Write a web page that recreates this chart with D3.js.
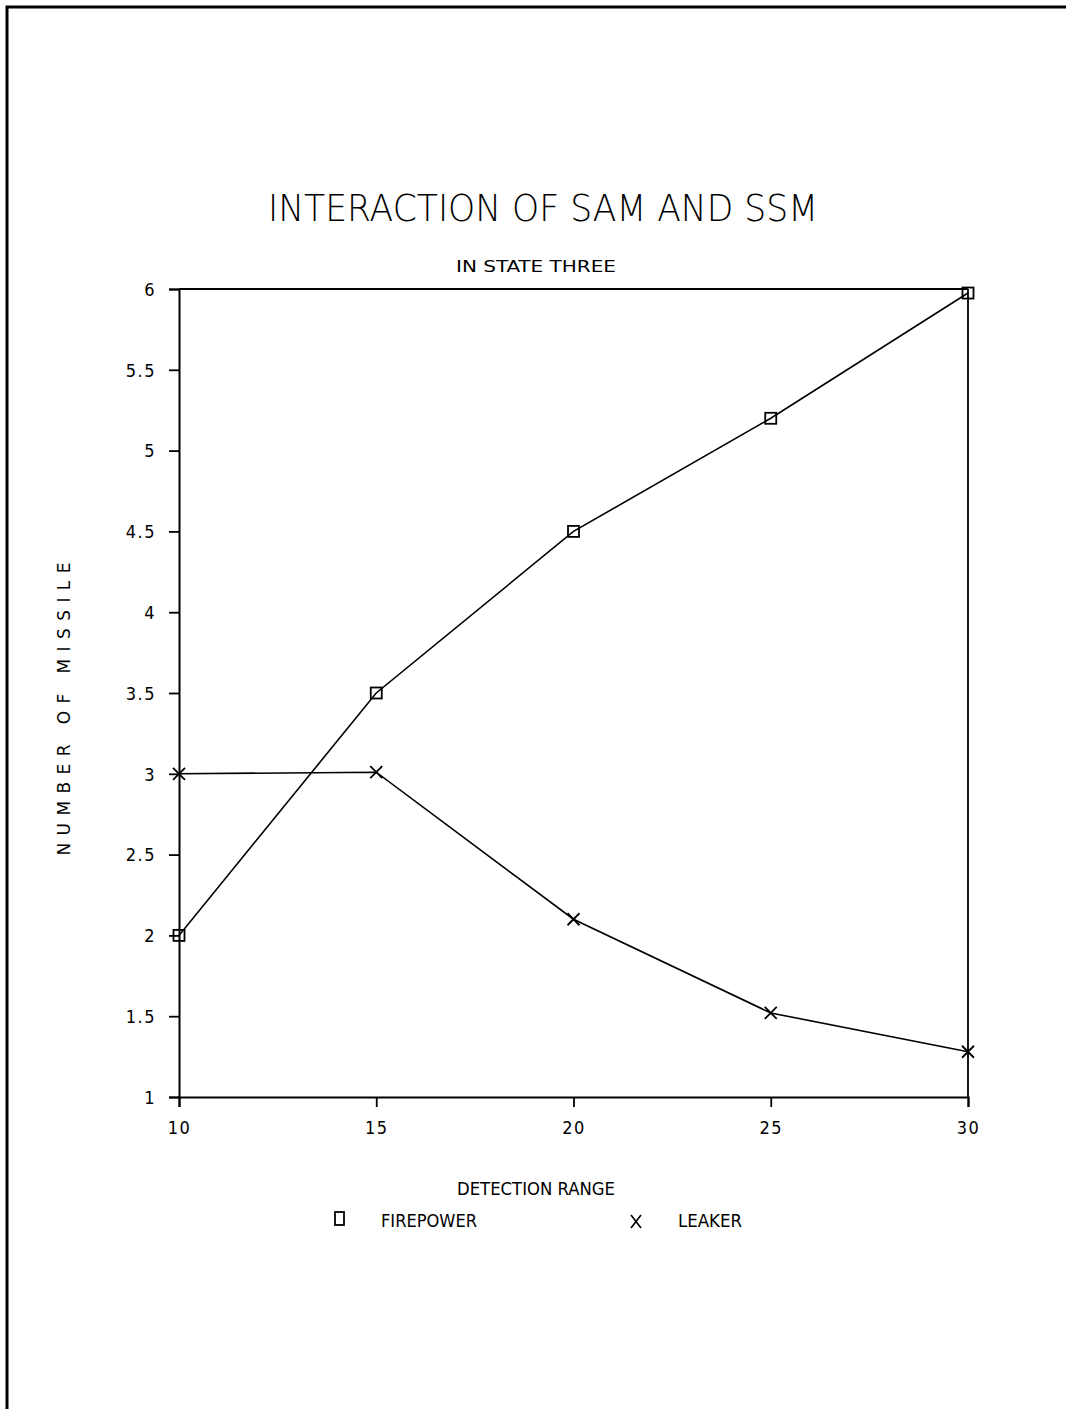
<!DOCTYPE html>
<html><head><meta charset="utf-8">
<script src="https://cdn.jsdelivr.net/npm/d3@7"></script>
<style>html,body{margin:0;background:#fff;overflow:hidden}svg{display:block}</style>
</head><body>
<script>
const ranges = [10, 15, 20, 25, 30];
const firepower = [2.0, 3.5, 4.5, 5.2, 5.975];
const leaker = [3.0, 3.01, 2.1, 1.52, 1.28];
const yTicks = [1, 1.5, 2, 2.5, 3, 3.5, 4, 4.5, 5, 5.5, 6];
const yTickLabels = ["1","1.5","2","2.5","3","3.5","4","4.5","5","5.5","6"];
const xTicks = [10, 15, 20, 25, 30];
const title = "INTERACTION OF SAM AND SSM";
const subtitle = "IN STATE THREE";
const xLabel = "DETECTION RANGE";
const yLabel = "NUMBER OF MISSILE";
const seriesNames = ["FIREPOWER", "LEAKER"];

const W = 1066, H = 1409;
const svg = d3.select("body").append("svg").attr("width", W).attr("height", H);
const font = "'DejaVu Sans Condensed', 'Liberation Sans Narrow', sans-serif";

// page frame (left and top only)
svg.append("path").attr("d", `M7,${H+5} V7 H${W+5}`).attr("fill","none").attr("stroke","#000").attr("stroke-width",3);

const L = 179, R = 968, T = 289, B = 1097;
const x = d3.scaleLinear().domain([10, 30]).range([L, R]);
const y = d3.scaleLinear().domain([1, 6]).range([B, T]);

// frame of plot
svg.append("line").attr("x1",L).attr("x2",R).attr("y1",T).attr("y2",T).attr("stroke","#000").attr("stroke-width",1.8);
svg.append("line").attr("x1",R).attr("x2",R).attr("y1",T).attr("y2",B).attr("stroke","#000").attr("stroke-width",1.8);

const yAxis = d3.axisLeft(y).tickValues(yTicks).tickFormat((d,i)=>yTickLabels[i]).tickSize(10).tickPadding(13);
const gy = svg.append("g").attr("transform",`translate(${L},0)`).call(yAxis);
const xAxis = d3.axisBottom(x).tickValues(xTicks).tickFormat(d3.format("d")).tickSize(10).tickPadding(14);
const gx = svg.append("g").attr("transform",`translate(0,${B})`).call(xAxis);
[gx, gy].forEach(g => {
  g.select(".domain").attr("stroke","#000").attr("stroke-width",2);
  g.selectAll(".tick line").attr("stroke","#000").attr("stroke-width",1.8);
  g.selectAll("text").attr("font-family",font).attr("font-size",18).attr("fill","#000").attr("letter-spacing","1.5px");
});
gy.selectAll("text").attr("dy","0.35em");

// lines
const line = d3.line().x((d,i)=>x(ranges[i])).y(d=>y(d));
svg.append("path").datum(firepower).attr("d",line).attr("fill","none").attr("stroke","#000").attr("stroke-width",1.6);
svg.append("path").datum(leaker).attr("d",line).attr("fill","none").attr("stroke","#000").attr("stroke-width",1.6);

// markers
const s = 11;
svg.selectAll(".sq").data(firepower).enter().append("rect")
  .attr("x",(d,i)=>x(ranges[i])-s/2).attr("y",d=>y(d)-s/2).attr("width",s).attr("height",s)
  .attr("fill","none").attr("stroke","#000").attr("stroke-width",1.8);
svg.selectAll(".xm").data(leaker).enter().append("path")
  .attr("d",(d,i)=>{const cx=x(ranges[i]), cy=y(d), r=6; return `M${cx-r},${cy-r}L${cx+r},${cy+r}M${cx-r},${cy+r}L${cx+r},${cy-r}`;})
  .attr("stroke","#000").attr("stroke-width",1.8);

// titles
svg.append("text").attr("x",543).attr("y",221).attr("text-anchor","middle")
  .attr("font-family","'DejaVu Sans', sans-serif").attr("font-size",38).attr("font-weight",200)
  .attr("textLength",550).attr("lengthAdjust","spacingAndGlyphs").text(title);
svg.append("text").attr("x",536).attr("y",272).attr("text-anchor","middle")
  .attr("font-family",font).attr("font-size",16)
  .attr("textLength",160).attr("lengthAdjust","spacingAndGlyphs").text(subtitle);
svg.append("text").attr("x",536).attr("y",1195).attr("text-anchor","middle")
  .attr("font-family",font).attr("font-size",18)
  .attr("textLength",158).attr("lengthAdjust","spacingAndGlyphs").text(xLabel);
svg.append("text").attr("transform","translate(70,708) rotate(-90)").attr("text-anchor","middle")
  .attr("font-family","'DejaVu Sans', sans-serif").attr("font-size",17).attr("letter-spacing","2px")
  .attr("textLength",295).attr("lengthAdjust","spacing").text(yLabel);

// legend
svg.append("rect").attr("x",335).attr("y",1212).attr("width",9).attr("height",13).attr("fill","none").attr("stroke","#000").attr("stroke-width",1.8);
svg.append("text").attr("x",381).attr("y",1227).attr("font-family",font).attr("font-size",18)
  .attr("textLength",96).attr("lengthAdjust","spacingAndGlyphs").text(seriesNames[0]);
svg.append("path").attr("d","M631,1215 L641,1228 M631,1228 L641,1215").attr("stroke","#000").attr("stroke-width",1.6);
svg.append("text").attr("x",678).attr("y",1227).attr("font-family",font).attr("font-size",18)
  .attr("textLength",64).attr("lengthAdjust","spacingAndGlyphs").text(seriesNames[1]);
</script>
</body></html>
